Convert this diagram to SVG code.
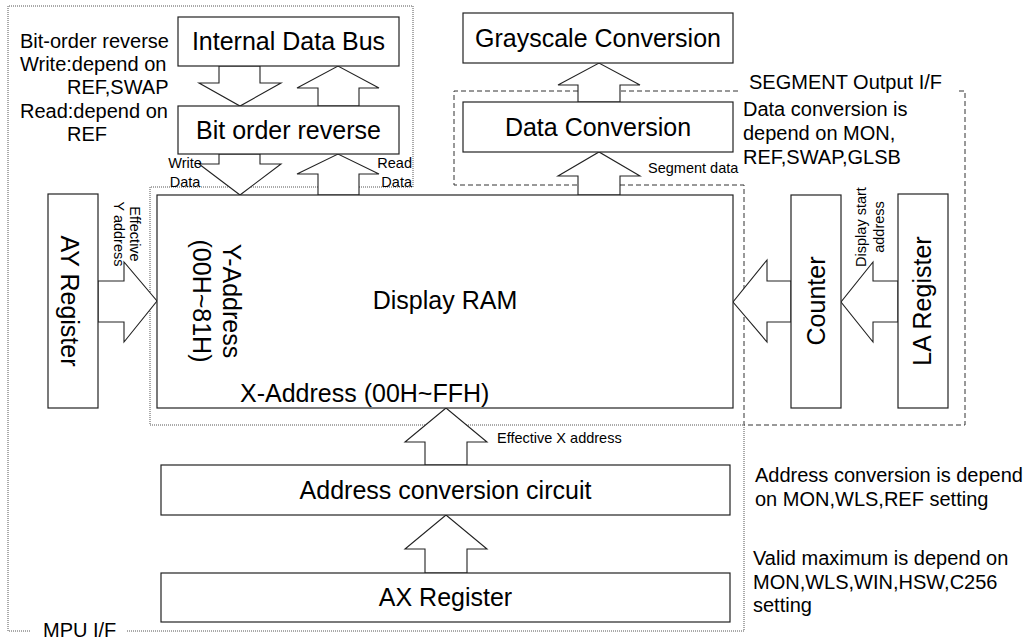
<svg xmlns="http://www.w3.org/2000/svg" width="1027" height="639" viewBox="0 0 1027 639">
<style>
text{font-family:"Liberation Sans",Arial,sans-serif;fill:#000}
.big{font-size:25px;text-anchor:middle}
.bigl{font-size:25px;text-anchor:start}
.note{font-size:20px}
.sm{font-size:14.5px}
.box{fill:#fff;stroke:#222;stroke-width:1.2}
.arr{fill:#fff;stroke:#222;stroke-width:1.1;stroke-linejoin:miter}
.dot{fill:none;stroke:#555;stroke-width:1;stroke-dasharray:1 1}
.dash{fill:none;stroke:#333;stroke-width:1;stroke-dasharray:5 3}
</style>
<rect width="1027" height="639" fill="#fff"/>
<g id="boundaries">
<path class="dot" d="M30 631 H8 V6 H413 V187 H150 V425 H744 V631 H127"/>
<path class="dash" d="M738 91 H454 V185 H744 V425 H965 V91 H957"/>
<text class="note" x="43" y="637">MPU I/F</text>
<text class="note" x="749" y="89">SEGMENT Output I/F</text>
</g>
<g id="connectors">
<polygon class="arr" points="219,66 260,66 260,83 281,83 240,106 199,83 219,83"/>
<polygon class="arr" points="318,106 359,106 359,88 379,88 338,66 297,88 318,88"/>
<polygon class="arr" points="219,154 260,154 260,164 281,164 240,195 199,164 219,164"/>
<polygon class="arr" points="318,195 359,195 359,174 379,174 338,154 297,174 318,174"/>
<polygon class="arr" points="578,195 620,195 620,176 640,176 599,152 558,176 578,176"/>
<polygon class="arr" points="578,102 620,102 620,85 640,85 599,63 558,85 578,85"/>
<polygon class="arr" points="98,281 124,281 124,262 157,301 124,342 124,322 98,322"/>
<polygon class="arr" points="791,281 767,281 767,260 733,302 767,342 767,322 791,322"/>
<polygon class="arr" points="898,281 873,281 873,262 841,302 873,342 873,322 898,322"/>
<polygon class="arr" points="425,465 467,465 467,442 487,442 446,408 405,442 425,442"/>
<polygon class="arr" points="425,573 467,573 467,549 487,549 446,515 405,549 425,549"/>
<text class="sm" x="185" y="168" text-anchor="middle">Write</text>
<text class="sm" x="185" y="187" text-anchor="middle">Data</text>
<text class="sm" x="412" y="168" text-anchor="end">Read</text>
<text class="sm" x="412" y="187" text-anchor="end">Data</text>
<text class="sm" x="648" y="173">Segment data</text>
<text class="sm" x="497" y="443">Effective X address</text>
<text class="sm" text-anchor="middle" transform="translate(130,234) rotate(90)">Effective</text>
<text class="sm" text-anchor="middle" transform="translate(114,234) rotate(90)">Y address</text>
<text class="sm" text-anchor="middle" transform="translate(866,227) rotate(-90)">Display start</text>
<text class="sm" text-anchor="middle" transform="translate(884,227) rotate(-90)">address</text>
</g>
<g id="internal-data-bus">
<rect class="box" x="178" y="17" width="221" height="49"/>
<text class="big" x="288.5" y="50">Internal Data Bus</text>
</g>
<g id="bit-order-reverse">
<rect class="box" x="178" y="106" width="221" height="48"/>
<text class="big" x="288.5" y="139">Bit order reverse</text>
</g>
<g id="grayscale-conversion">
<rect class="box" x="463" y="13" width="270" height="50"/>
<text class="big" x="598" y="47">Grayscale Conversion</text>
</g>
<g id="data-conversion">
<rect class="box" x="463" y="102" width="270" height="50"/>
<text class="big" x="598" y="136">Data Conversion</text>
</g>
<g id="display-ram">
<rect class="box" x="157" y="195" width="576" height="213"/>
<text class="big" x="445" y="309">Display RAM</text>
<text class="big" transform="translate(223,301) rotate(90)">Y-Address</text>
<text class="big" transform="translate(193,301) rotate(90)">(00H~81H)</text>
<text class="bigl" x="240" y="402">X-Address (00H~FFH)</text>
</g>
<g id="ay-register">
<rect class="box" x="48" y="194" width="50" height="214"/>
<text class="big" transform="translate(61,301) rotate(90)">AY Register</text>
</g>
<g id="counter">
<rect class="box" x="791" y="195" width="50" height="213"/>
<text class="big" transform="translate(825,301) rotate(-90)">Counter</text>
</g>
<g id="la-register">
<rect class="box" x="898" y="194" width="50" height="214"/>
<text class="big" transform="translate(931,301) rotate(-90)">LA Register</text>
</g>
<g id="address-conversion">
<rect class="box" x="161" y="465" width="569" height="50"/>
<text class="big" x="445.5" y="499">Address conversion circuit</text>
</g>
<g id="ax-register">
<rect class="box" x="161" y="573" width="569" height="49"/>
<text class="big" x="445.5" y="606">AX Register</text>
</g>
<g id="notes">
<text class="note" x="20" y="48">Bit-order reverse</text>
<text class="note" x="20" y="71">Write:depend on</text>
<text class="note" x="67" y="94">REF,SWAP</text>
<text class="note" x="20" y="118">Read:depend on</text>
<text class="note" x="67" y="141">REF</text>
<text class="note" x="743" y="116">Data conversion is</text>
<text class="note" x="743" y="140">depend on MON,</text>
<text class="note" x="743" y="164">REF,SWAP,GLSB</text>
<text class="note" x="755" y="482">Address conversion is depend</text>
<text class="note" x="755" y="506">on MON,WLS,REF setting</text>
<text class="note" x="753" y="565">Valid maximum is depend on</text>
<text class="note" x="753" y="589">MON,WLS,WIN,HSW,C256</text>
<text class="note" x="753" y="612">setting</text>
</g>
</svg>
